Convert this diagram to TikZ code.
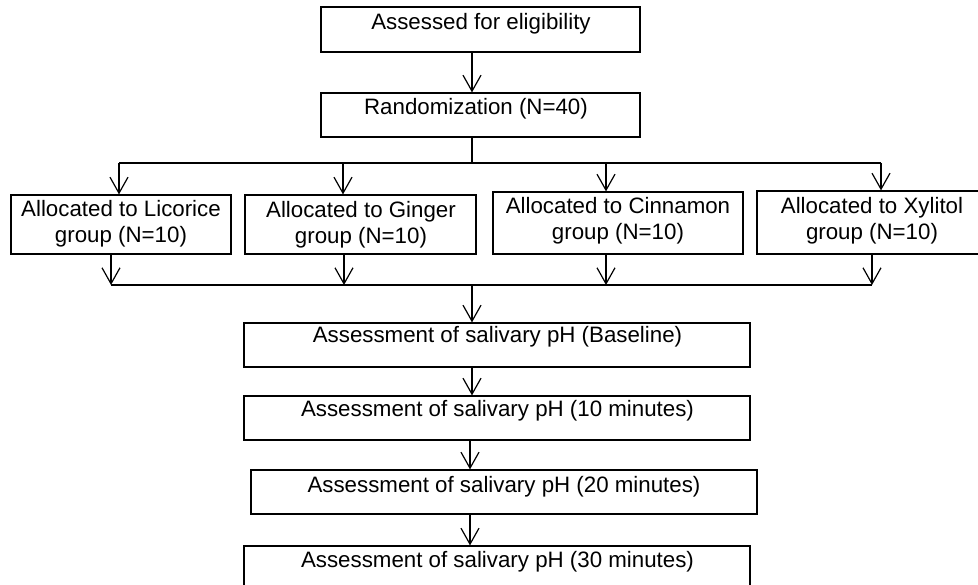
\documentclass[tikz,border=0pt]{standalone}
\usepackage{fontspec}
\setmainfont{Liberation Sans}
\usetikzlibrary{arrows.meta}
\begin{document}
\begin{tikzpicture}[x=1pt,y=-1pt,line width=1.2pt,
  box/.style={draw, rectangle, inner sep=0pt},
  lbl/.style={anchor=base, inner sep=0pt, align=center, font=\fontsize{22.3}{26}\selectfont},
  arr/.style={-{Straight Barb[length=16pt,width=18pt]}}]
\useasboundingbox (0,0) rectangle (978,585);
% boxes
\node[box, minimum width=319pt, minimum height=45pt] (b1) at (480.5,29.5) {};
\node[box, minimum width=319pt, minimum height=44pt] (b2) at (480.5,115) {};
\node[box, minimum width=220pt, minimum height=59pt] (g1) at (121,224.5) {};
\node[box, minimum width=231pt, minimum height=59pt] (g2) at (360.5,224.5) {};
\node[box, minimum width=250pt, minimum height=62pt] (g3) at (618,223) {};
\node[box, minimum width=230pt, minimum height=63pt] (g4) at (872,222.5) {};
\node[box, minimum width=506pt, minimum height=44pt] (b3) at (497,345) {};
\node[box, minimum width=506pt, minimum height=44pt] (b4) at (497,418) {};
\node[box, minimum width=506pt, minimum height=44pt] (b5) at (504,492) {};
\node[box, minimum width=506pt, minimum height=44pt] (b6) at (497,568) {};
% texts
\node[lbl] (b1t) at (481,30) {Assessed for eligibility};
\node[lbl] (b2t) at (476,115) {Randomization (N=40)};
\node[lbl] (g1t) at (121,243) {Allocated to Licorice\\group (N=10)};
\node[lbl] (g2t) at (361,244) {Allocated to Ginger\\group (N=10)};
\node[lbl] (g3t) at (618,240) {Allocated to Cinnamon\\group (N=10)};
\node[lbl] (g4t) at (872,240) {Allocated to Xylitol\\group (N=10)};
\node[lbl] (b3t) at (497.5,343) {Assessment of salivary pH (Baseline)};
\node[lbl] (b4t) at (497.5,417) {Assessment of salivary pH (10 minutes)};
\node[lbl] (b5t) at (504,492) {Assessment of salivary pH (20 minutes)};
\node[lbl] (b6t) at (497.5,567) {Assessment of salivary pH (30 minutes)};
% junction coordinates
\coordinate (j1) at (472,163);
\coordinate (t1) at (119,163);
\coordinate (t2) at (343,163);
\coordinate (t3) at (606,163);
\coordinate (t4) at (881,163);
\coordinate (u1) at (111,285);
\coordinate (u2) at (344,285);
\coordinate (u3) at (606,285);
\coordinate (u4) at (872,285);
\coordinate (j2) at (472,285);
\coordinate (j3) at (470,440);
% connectors
\draw[arr] ([xshift=-8.5pt]b1.south) -- ([xshift=-8.5pt]b2.north);
\draw ([xshift=-8.5pt]b2.south) -- (j1);
\draw (t1) -- (t4);
\draw[arr] (t1) -- (t1 |- g1.north);
\draw[arr] (t2) -- (t2 |- g2.north);
\draw[arr] (t3) -- (t3 |- g3.north);
\draw[arr] (t4) -- (t4 |- g4.north);
\draw[arr] (u1 |- g1.south) -- (u1);
\draw[arr] (u2 |- g2.south) -- (u2);
\draw[arr] (u3 |- g3.south) -- (u3);
\draw[arr] (u4 |- g4.south) -- (u4);
\draw (u1) -- (u4);
\draw[arr] (j2) -- (j2 |- b3.north);
\draw[arr] (j2 |- b3.south) -- (j2 |- b4.north);
\draw[arr] (j3 |- b4.south) -- (j3 |- b5.north);
\draw[arr] (j3 |- b5.south) -- (j3 |- b6.north);
\end{tikzpicture}
\end{document}
